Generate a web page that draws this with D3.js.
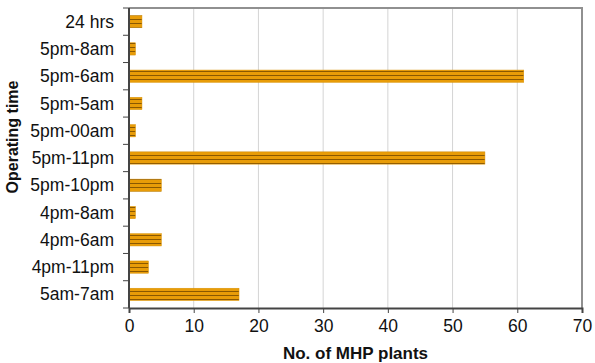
<!DOCTYPE html>
<html>
<head>
<meta charset="utf-8">
<script src="https://cdn.jsdelivr.net/npm/d3@7"></script>
<style>
  body { margin: 0; background: #fff; }
  text { font-family: "Liberation Sans", Arial, sans-serif; fill: #111; }
</style>
</head>
<body>
<div id="chart"></div>
<script>
// categories top to bottom
const categories = ["24 hrs", "5pm-8am", "5pm-6am", "5pm-5am", "5pm-00am", "5pm-11pm",
                    "5pm-10pm", "4pm-8am", "4pm-6am", "4pm-11pm", "5am-7am"];
const plants = [2, 1, 61, 2, 1, 55, 5, 1, 5, 3, 17];
const xTicks = [0, 10, 20, 30, 40, 50, 60, 70];

const W = 595, H = 363;
const margin = {top: 8, right: 13, bottom: 55, left: 129};

const svg = d3.select("#chart").append("svg").attr("width", W).attr("height", H);

// stripes for the bars
const defs = svg.append("defs");
const pat = defs.append("pattern").attr("id", "stripes")
    .attr("patternUnits", "userSpaceOnUse").attr("width", 6).attr("height", 4);
pat.append("rect").attr("width", 6).attr("height", 4).attr("fill", "#e89c08");
pat.append("rect").attr("y", 3).attr("width", 6).attr("height", 1).attr("fill", "#8a5800");

const x = d3.scaleLinear().domain([0, 70]).range([margin.left, W - margin.right]);
const y = d3.scaleBand().domain(categories).range([margin.top, H - margin.bottom]).paddingInner(0.55).paddingOuter(0.275);
const yb = d3.scaleBand().domain(categories).range([margin.top, H - margin.bottom]);

// grid lines
svg.append("g").selectAll("line").data(xTicks.slice(1, -1)).join("line")
    .attr("x1", d => x(d)).attr("x2", d => x(d))
    .attr("y1", margin.top).attr("y2", H - margin.bottom)
    .attr("stroke", "#d4d4d4").attr("stroke-width", 1);

// frame (top and right)
svg.append("path")
    .attr("d", `M${x(0)},${margin.top}H${x(70)}V${H - margin.bottom}`)
    .attr("fill", "none").attr("stroke", "#909090").attr("stroke-width", 2);

// bars
svg.append("g").selectAll("rect").data(categories).join("rect")
    .attr("x", x(0))
    .attr("y", d => y(d))
    .attr("width", (d, i) => x(plants[i]) - x(0))
    .attr("height", y.bandwidth())
    .attr("fill", "url(#stripes)")
    .attr("stroke", "#d89000").attr("stroke-width", 0.5);

// x axis
const xAxis = svg.append("g").attr("transform", `translate(0,${H - margin.bottom})`)
    .call(d3.axisBottom(x).tickValues(xTicks).tickSize(5).tickPadding(7));
xAxis.select(".domain").attr("stroke", "#444").attr("stroke-width", 2);
xAxis.selectAll(".tick line").attr("stroke", "#444");
xAxis.selectAll("text").style("font-size", "17.5px").attr("fill", "#111");

// y axis: ticks at band boundaries
const yAxis = svg.append("g").attr("transform", `translate(${x(0)},0)`);
yAxis.append("line").attr("y1", margin.top).attr("y2", H - margin.bottom)
    .attr("stroke", "#444").attr("stroke-width", 2);
const bounds = categories.map(c => yb(c)).concat([H - margin.bottom]);
yAxis.selectAll(".tk").data(bounds).join("line").attr("class", "tk")
    .attr("x1", -6).attr("x2", 0).attr("y1", d => d).attr("y2", d => d)
    .attr("stroke", "#444");
yAxis.selectAll(".lbl").data(categories).join("text").attr("class", "lbl")
    .attr("x", -15).attr("y", d => yb(d) + yb.bandwidth() / 2)
    .attr("dy", "0.35em").attr("text-anchor", "end")
    .style("font-size", "17.5px").text(d => d);

// axis titles
svg.append("text").attr("x", (x(0) + x(70)) / 2).attr("y", 359)
    .attr("text-anchor", "middle").style("font-size", "17px").style("font-weight", "bold")
    .text("No. of MHP plants");
svg.append("text").attr("transform", "translate(18,137) rotate(-90)")
    .attr("text-anchor", "middle").style("font-size", "16px").style("font-weight", "bold")
    .text("Operating time");
</script>
</body>
</html>
